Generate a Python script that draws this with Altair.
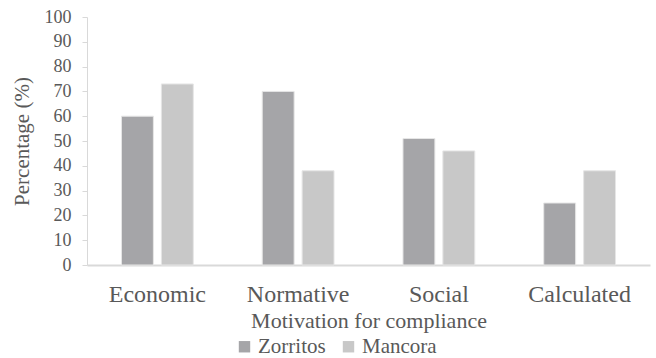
import altair as alt
import pandas as pd

categories = ["Economic", "Normative", "Social", "Calculated"]
zorritos = [60, 70, 51, 25]
mancora = [73, 38, 46, 38]
series = ["Zorritos", "Mancora"]

rows = []
for i, c in enumerate(categories):
    rows.append({"cat": c, "site": series[0], "val": zorritos[i]})
    rows.append({"cat": c, "site": series[1], "val": mancora[i]})
df = pd.DataFrame(rows)

FONT = "Liberation Serif"
TXT = "#595959"
GRID = "#d9d9d9"

chart = alt.Chart(df).mark_bar(stroke="#e6e6e6", strokeWidth=1).encode(
    x=alt.X("cat:N", sort=categories, title="Motivation for compliance",
            scale=alt.Scale(paddingInner=0.49, paddingOuter=0.245),
            axis=alt.Axis(labelAngle=0, labelFontSize=24, labelFont=FONT, labelColor=TXT,
                          titleFont=FONT, titleFontSize=22, titleColor=TXT, titleFontWeight="normal",
                          ticks=False, labelPadding=17, titlePadding=4,
                          domainColor=GRID, domainWidth=2)),
    xOffset=alt.XOffset("site:N", sort=series, scale=alt.Scale(paddingInner=0.2, paddingOuter=0)),
    y=alt.Y("val:Q", title="Percentage (%)",
            scale=alt.Scale(domain=[0, 100], nice=False),
            axis=alt.Axis(values=list(range(0, 101, 10)), grid=False,
                          labelFontSize=18, labelFont=FONT, labelColor=TXT,
                          titleFont=FONT, titleFontSize=21, titleColor=TXT, titleFontWeight="normal",
                          tickColor=GRID, tickSize=5, domainColor=GRID, labelPadding=11, titlePadding=12)),
    color=alt.Color("site:N", sort=series,
                    scale=alt.Scale(domain=series, range=["#a5a5a8", "#c8c8c8"]),
                    legend=alt.Legend(title=None, orient="none", direction="horizontal",
                                      legendX=147, legendY=319, symbolType="square",
                                      symbolSize=130, symbolStrokeWidth=0,
                                      labelFont=FONT, labelFontSize=21, labelColor=TXT,
                                      columnPadding=12, labelOffset=3, padding=0)),
).properties(
    width=563, height=248,
    autosize=alt.AutoSizeParams(type="none"),
    padding={"left": 87, "top": 17, "right": 6, "bottom": 93},
).configure(font=FONT).configure_view(stroke=None)

chart.save("out.html", embed_options={"renderer": "svg", "actions": False})
